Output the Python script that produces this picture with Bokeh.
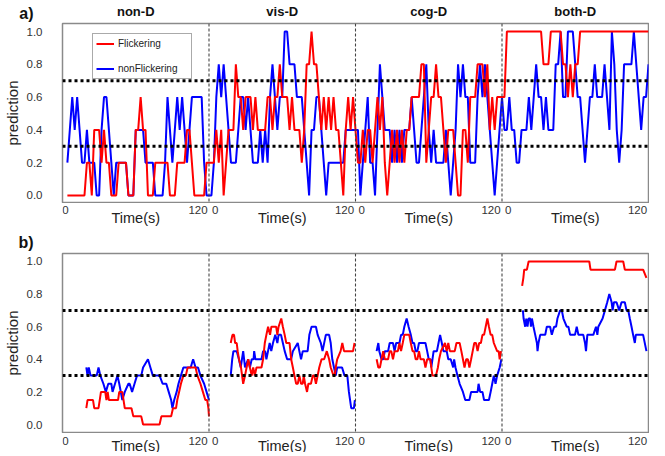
import numpy as np
from bokeh.plotting import figure
from bokeh.models import (Range1d, FixedTicker, Span, Legend, LegendItem,
                          PrintfTickFormatter)
from bokeh.core.properties import value
from bokeh.layouts import column
from bokeh.embed import file_html
from bokeh.resources import INLINE

# ---------------- data ----------------
SEG_LEN = 120
segments = ["non-D", "vis-D", "cog-D", "both-D"]
thresholds = [0.3, 0.7]
y_ticks = [0.0, 0.2, 0.4, 0.6, 0.8, 1.0]
a_level = 0.2          # panel a predictions are multiples of 0.2
a_step = 2             # panel a sample spacing (s); every series ends at 120 s

# panel a, values in units of 0.2 (non-D starts at t=4 s, others at t=2 s)
a_flick_nonD = [0,0,0,0,0,0,0,0,1,1, 0,2,2,2,1,2,1,1,0,0, 0,1,1,1,1,0,0,0,2,2,
                3,2,2,0,0,0,1,1,1,1, 1,1,0,0,0,1,1,1,1,2, 2,1,0,0,0,0,0,1,1]
a_blue_nonD  = [1,2,3,2,3,2,1,1,2,1, 1,1,0,0,2,3,3,2,1,0, 1,1,1,1,1,0,0,0,2,2,
                2,2,1,1,1,1,0,0,0,0, 1,3,2,1,2,3,2,3,2,1, 2,3,3,3,3,3,1,0,0]
a_flick_visD = [1,1,2,1,2,0,1,2,2,2, 4,3,3,2,3,3,3,2,3,2, 2,2,2,3,3,2,3,3,4,3,
                3,3,2,3,2,2,2,1,2,4, 4,5,4,4,3,2,3,2,3,2, 3,2,2,1,0,2,3,2,3,2]
a_blue_visD  = [0,1,3,4,3,4,3,2,1,1, 1,2,3,3,2,3,2,1,1,1, 2,1,2,1,3,4,3,2,3,3,
                5,5,4,4,4,3,3,3,2,1, 0,2,2,3,3,2,1,0,1,1, 1,1,1,1,1,2,2,2,2,2]
a_flick_cogD = [1,1,2,1,2,2,1,2,3,2, 3,1,0,1,2,1,2,1,2,1, 2,2,3,3,3,3,4,4,1,2,
                3,3,4,3,3,2,1,2,2,2, 1,0,0,2,2,1,3,3,3,4, 4,4,3,4,2,3,2,3,3,3]
a_blue_cogD  = [2,0,1,2,3,1,1,0,2,4, 3,2,2,2,1,2,1,2,1,2, 2,2,3,2,1,1,2,3,4,2,
                1,2,1,1,1,1,2,1,0,1, 2,4,3,4,3,3,1,1,1,3, 4,3,4,3,2,1,0,1,2,3]
a_flick_bothD = [3,5,5,5,5,5,5,5,5,5, 5,5,5,5,5,5,4,4,4,5, 5,5,5,5,4,4,3,4,3,4,
                 4,5,5,5,5,5,5,5,5,5, 5,5,5,5,5,5,5,5,5,5, 5,5,5,5,5,5,5,5,5,5]
a_blue_bothD  = [2,2,3,2,2,1,1,2,2,2, 3,2,3,4,3,3,2,3,2,2, 2,4,4,5,3,3,5,5,5,4,
                 3,3,2,1,2,3,3,4,3,3, 3,4,3,2,5,4,2,1,2,4, 4,4,4,5,4,3,2,3,3,4]

# panel b (smoothed predictions), time (s) within each segment and value
b_flick_nonD_t = [19.5,20.5,25,26,29.5,30.5,31.5,35,36,37,38,45.5,46.5,49,50,51,56.5,58,64.5,66,
                  79.5,81,89,90.5,93,94,95.5,97,99,101,102.5,105.5,109,110.5,113,115,117,118.5,119.5,120]
b_flick_nonD_v = [0.10,0.15,0.15,0.10,0.10,0.15,0.20,0.20,0.15,0.20,0.15,0.15,0.20,0.20,0.15,0.10,0.10,0.05,0.05,0.0,
                  0.0,0.05,0.05,0.10,0.10,0.15,0.20,0.25,0.30,0.30,0.35,0.35,0.35,0.30,0.25,0.20,0.15,0.15,0.10,0.05]
b_blue_nonD_t = [19.5,20.5,21.5,23,28,29.5,31,33.5,35.5,37.5,40,41,43,45,46.5,49,51,54,55,57,59,61,64.5,
                 66,70,72,74,79.5,82,85,87,89,90,91.5,93.5,95,97,99,105,107,109,111,113,116,118,120]
b_blue_nonD_v = [0.35,0.30,0.35,0.30,0.30,0.35,0.30,0.25,0.20,0.25,0.25,0.20,0.25,0.30,0.25,0.15,0.20,0.25,0.25,0.20,0.25,0.30,0.30,
                 0.35,0.40,0.35,0.30,0.30,0.25,0.25,0.20,0.15,0.10,0.15,0.20,0.25,0.30,0.35,0.35,0.40,0.35,0.35,0.30,0.25,0.20,0.15]
b_flick_visD_t = [17.8,19.2,20.5,21.4,22.7,23.5,24.6,26.2,28,29.5,30.8,32.2,33.5,35,36.2,37.5,38.9,40.3,43,44.3,
                  45.7,47,48.4,50,51.1,52.4,55,56,57,59.2,60.5,62,63.3,66,67.3,68.7,70,71.4,72.7,74,
                  75.4,76.8,77.6,78.7,80.3,81.4,83.5,85,86.2,87.6,89,90.3,92.2,94.3,96.5,98.4,99.7,102,103,103.8,
                  105,107.8,109.2,110.6,118,119.2]
b_flick_visD_v = [0.50,0.55,0.55,0.50,0.50,0.45,0.40,0.35,0.25,0.30,0.35,0.40,0.35,0.30,0.35,0.30,0.35,0.35,0.35,0.40,
                  0.50,0.55,0.60,0.55,0.60,0.60,0.60,0.55,0.60,0.65,0.60,0.55,0.50,0.50,0.40,0.35,0.30,0.25,0.25,0.30,
                  0.25,0.25,0.30,0.25,0.20,0.25,0.25,0.30,0.30,0.25,0.30,0.35,0.40,0.40,0.45,0.40,0.35,0.30,0.30,0.35,
                  0.40,0.45,0.50,0.45,0.45,0.50]
b_blue_visD_t = [17.8,19,20,22.7,24.5,26,28,29.5,32,33.5,35,36.5,37,38,43,44.3,46,47,49.7,51,
                 52.4,54.3,56,57,59,60.5,62,64,67.3,68.7,72.7,74,75.4,76.8,80.8,82.2,84,87.6,89,91.6,
                 93,95.7,98.4,99.7,101,102.4,103.8,105,109,111,113.3,114.6,116.5,118.7,119.5]
b_blue_visD_v = [0.30,0.40,0.45,0.45,0.40,0.35,0.45,0.35,0.40,0.35,0.40,0.40,0.45,0.40,0.40,0.45,0.45,0.40,0.50,0.45,
                 0.50,0.55,0.50,0.55,0.55,0.50,0.45,0.40,0.40,0.45,0.50,0.45,0.40,0.45,0.45,0.55,0.60,0.60,0.55,0.50,
                 0.45,0.55,0.55,0.50,0.40,0.35,0.30,0.35,0.35,0.30,0.30,0.20,0.10,0.10,0.15]
b_flick_cogD_t = [17.3,18.7,20,21.3,22.7,24,26.7,28,29.3,30.7,32,34.7,36,37.3,38.7,40,44,45.3,46.7,48,
                  49.3,50.7,52,53.3,56,57.3,58.7,61.3,62.1,63,65.9,67.5,68.5,70,73.3,74.7,76,77.3,81.3,82.7,
                  85.3,86.7,88,89.3,90.7,92,93.3,94.7,96,97.3,98.7,100,101.3,102.7,104,105.3,108,109.3,110.7,112,
                  113.3,116,117.3,118.1,119.2]
b_flick_cogD_v = [0.40,0.35,0.35,0.40,0.45,0.40,0.40,0.45,0.45,0.40,0.45,0.45,0.50,0.45,0.50,0.55,0.55,0.50,0.45,0.45,
                  0.40,0.40,0.45,0.40,0.40,0.35,0.40,0.40,0.35,0.30,0.30,0.35,0.40,0.45,0.50,0.45,0.50,0.45,0.45,0.50,
                  0.50,0.45,0.40,0.35,0.40,0.40,0.35,0.40,0.45,0.50,0.50,0.45,0.50,0.50,0.55,0.55,0.65,0.60,0.55,0.55,
                  0.50,0.45,0.45,0.40,0.45]
b_blue_cogD_t = [17.3,18.7,19.5,21.3,22.7,24,26.7,28,30.7,32,33.3,36,37.3,38.7,40,41.9,43.5,45.3,46.7,48,
                 49.3,50.7,52,57.3,58.7,60,61.3,62.1,64,66.7,68,69.3,70.7,72,74.7,76,78,80,80.8,81.9,
                 83.5,85.3,88,89.9,93.3,94.7,100,100.8,102.1,104,105.3,109.3,110.7,112,113.3,114.7,116,118.1,119.5]
b_blue_cogD_v = [0.45,0.50,0.45,0.40,0.40,0.45,0.45,0.50,0.50,0.45,0.50,0.50,0.55,0.55,0.60,0.65,0.60,0.55,0.50,0.50,
                 0.45,0.45,0.50,0.50,0.45,0.40,0.40,0.35,0.45,0.45,0.50,0.55,0.50,0.45,0.45,0.40,0.40,0.35,0.40,0.35,
                 0.30,0.25,0.20,0.15,0.15,0.20,0.20,0.25,0.20,0.20,0.15,0.15,0.20,0.25,0.30,0.25,0.30,0.35,0.40]
b_flick_bothD_t = [16.5,17.5,18.2,20.4,21.8,71.5,72.5,92.5,93.8,99.3,100.6,115.6,118.3]
b_flick_bothD_v = [0.85,0.90,0.95,0.95,1.00,1.00,0.95,0.95,1.00,1.00,0.95,0.95,0.90]
b_blue_bothD_t = [17.1,17.7,19,19.9,20.9,21.8,23.1,23.7,24.5,25.8,27.2,28.6,29.1,29.9,31.3,35.4,36.7,39.4,40.8,42.7,
                  44.3,45.4,47.6,49,50.3,53,54.4,55.8,59.8,61.2,62.6,66.6,68,68.8,69.9,74.8,77,78.1,78.9,82.4,
                  84.3,86.2,87.9,89.8,90.6,91.7,93.8,96,97.9,100.6,102,103.4,104.7,106.1,107.4,108.8,109.6,115.6,118.3]
b_blue_bothD_v = [0.70,0.65,0.60,0.65,0.60,0.65,0.65,0.60,0.65,0.60,0.55,0.50,0.45,0.50,0.55,0.55,0.60,0.60,0.55,0.60,
                  0.60,0.65,0.70,0.70,0.65,0.60,0.60,0.55,0.55,0.60,0.55,0.55,0.50,0.45,0.55,0.55,0.60,0.55,0.60,0.65,
                  0.70,0.75,0.80,0.75,0.70,0.75,0.75,0.70,0.75,0.75,0.70,0.70,0.65,0.60,0.55,0.50,0.55,0.55,0.45]

# ---------------- assemble series ----------------
def build_a(seg_lists):
    xs, ys = [], []
    for k, vals in enumerate(seg_lists):
        n = len(vals)
        t = np.arange(SEG_LEN - a_step * (n - 1), SEG_LEN + 1, a_step)
        xs.extend(t + SEG_LEN * k)
        ys.extend(np.array(vals) * a_level)
    return np.array(xs, float), np.array(ys, float)

def build_b(seg_pairs):
    xs, ys = [], []
    for k, (t, v) in enumerate(seg_pairs):
        if k:
            xs.append(np.nan); ys.append(np.nan)
        xs.extend(np.array(t) + SEG_LEN * k)
        ys.extend(v)
    return np.array(xs, float), np.array(ys, float)

a_red_x, a_red_y = build_a([a_flick_nonD, a_flick_visD, a_flick_cogD, a_flick_bothD])
a_blue_x, a_blue_y = build_a([a_blue_nonD, a_blue_visD, a_blue_cogD, a_blue_bothD])
b_red_x, b_red_y = build_b([(b_flick_nonD_t, b_flick_nonD_v), (b_flick_visD_t, b_flick_visD_v),
                            (b_flick_cogD_t, b_flick_cogD_v), (b_flick_bothD_t, b_flick_bothD_v)])
b_blue_x, b_blue_y = build_b([(b_blue_nonD_t, b_blue_nonD_v), (b_blue_visD_t, b_blue_visD_v),
                              (b_blue_cogD_t, b_blue_cogD_v), (b_blue_bothD_t, b_blue_bothD_v)])

# ---------------- styling / layout ----------------
RED = "#ff0000"
BLUE = "#0000ff"
FONT = "Liberation Sans"
W = 649
LEFT, RIGHT = 54, 1
n_seg = len(segments)
X_END = SEG_LEN * n_seg
px_per_s = (W - LEFT - RIGHT) / X_END
boundaries = [SEG_LEN * k for k in range(1, n_seg)]
centers = [SEG_LEN * k + SEG_LEN / 2 for k in range(n_seg)]
# tick labels: "0" just right of each segment start, "120" just left of each end
x_ticks, x_labels = [], []
for k in range(n_seg):
    x_ticks += [SEG_LEN * k + (3 / px_per_s if k == 0 else 5), SEG_LEN * (k + 1) - 9]
    x_labels += ["0", str(SEG_LEN)]


def strip(height, top=0, letter=None):
    s = figure(width=W, height=height, x_range=Range1d(0, X_END),
               y_range=Range1d(0, height - top), x_axis_type=None,
               y_axis_type="linear" if letter else None,
               output_backend="svg", toolbar_location=None, min_border=0,
               min_border_top=top, min_border_left=LEFT, min_border_right=RIGHT)
    s.outline_line_color = None
    s.grid.visible = False
    s.background_fill_color = "white"
    s.border_fill_color = "white"
    if letter:
        ax = s.yaxis[0]
        ax.ticker = FixedTicker(ticks=[])
        ax.major_label_text_font_size = "0px"
        ax.major_label_standoff = 0
        ax.axis_line_color = None
        ax.major_tick_line_color = None
        ax.minor_tick_line_color = None
        ax.axis_label = letter
        ax.axis_label_orientation = "horizontal"
        ax.axis_label_standoff = 29
        ax.axis_label_text_font = FONT
        ax.axis_label_text_font_style = "bold"
        ax.axis_label_text_font_size = "16px"
        ax.axis_label_text_color = "#111111"
    return s


def footer(height, num_y, time_y):
    s = strip(height)
    s.text(x=x_ticks, y=[num_y] * len(x_ticks), text=x_labels, text_font=value(FONT),
           text_font_size="11.5px", text_align="center", text_baseline="middle",
           text_color="#333333")
    s.text(x=centers, y=[time_y] * n_seg, text=["Time(s)"] * n_seg, text_font=value(FONT),
           text_font_size="14.5px", text_align="center", text_baseline="middle",
           text_color="#222222")
    return s


def panel(height, y_range):
    p = figure(width=W, height=height, x_range=Range1d(0, X_END),
               y_range=Range1d(*y_range), x_axis_type=None, output_backend="svg",
               toolbar_location=None, min_border_left=LEFT, min_border_right=RIGHT,
               min_border_top=1, min_border_bottom=1)
    p.grid.visible = False
    p.outline_line_color = "#8a8a8a"
    p.outline_line_width = 1.5
    p.background_fill_color = "white"
    p.border_fill_color = "white"
    ax = p.yaxis[0]
    ax.axis_line_color = None
    ax.major_tick_line_color = None
    ax.minor_tick_line_color = None
    ax.major_label_text_font = FONT
    ax.major_label_text_font_size = "11.5px"
    ax.major_label_text_color = "#333333"
    ax.ticker = FixedTicker(ticks=y_ticks)
    ax.formatter = PrintfTickFormatter(format="%.1f")
    ax.major_label_standoff = 14
    ax.axis_label = "prediction"
    ax.axis_label_text_font = FONT
    ax.axis_label_text_font_style = "normal"
    ax.axis_label_text_font_size = "15px"
    ax.axis_label_text_color = "#222222"
    ax.axis_label_standoff = 3
    for thr in thresholds:
        p.add_layout(Span(location=thr, dimension="width", line_color="black",
                          line_width=3, line_dash="3 3"))
    for b in boundaries:
        p.add_layout(Span(location=b, dimension="height", line_color="#444444",
                          line_width=1.1, line_dash="3 2"))
    return p


# panel a
ha = strip(22, top=4, letter="a)")
ha.text(x=centers, y=[11] * n_seg, text=segments, text_font=value(FONT),
        text_font_style="bold", text_font_size="13px", text_align="center",
        text_baseline="middle", text_color="#111111")
pa = panel(181, (-0.043, 1.049))
fha = 181 - 2
rb = pa.line(a_blue_x, a_blue_y, line_color=BLUE, line_width=2)
rr = pa.line(a_red_x, a_red_y, line_color=RED, line_width=2)
legend = Legend(items=[LegendItem(label="Flickering", renderers=[rr]),
                       LegendItem(label="nonFlickering", renderers=[rb])],
                location=(30, fha - 11 - 45), orientation="vertical", padding=3, spacing=12,
                label_height=13, glyph_height=13, glyph_width=18, label_standoff=4,
                label_width=70, margin=0, border_line_color="#555555", border_line_width=1,
                label_text_font=FONT, label_text_font_size="10px",
                label_text_color="#222222", background_fill_alpha=1.0)
pa.add_layout(legend)
fa = footer(25, 19, 11)

# panel b
hb = strip(24, top=4, letter="b)")
pb = panel(181, (-0.049, 1.049))
pb.line(b_blue_x, b_blue_y, line_color=BLUE, line_width=2)
pb.line(b_red_x, b_red_y, line_color=RED, line_width=2)
fb = footer(19, 12, 7)

layout = column(ha, pa, fa, hb, pb, fb, spacing=0)
open("out.html", "w").write(file_html(layout, INLINE))
